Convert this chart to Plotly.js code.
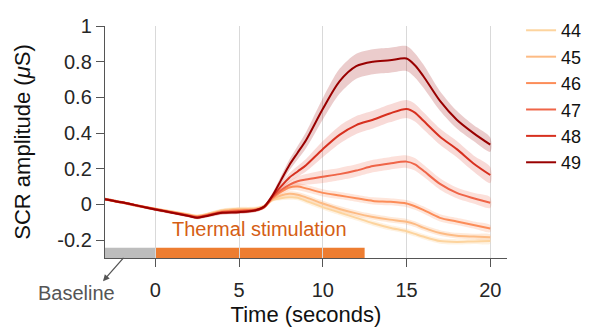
<!DOCTYPE html>
<html>
<head>
<meta charset="utf-8">
<script src="https://cdn.plot.ly/plotly-3.0.1.min.js"></script>
<style>html,body{margin:0;padding:0;background:#fff;}#chart{width:605px;height:328px;}</style>
</head>
<body>
<div id="chart"></div>
<script>
// time axis (seconds)
const timeSec = [-3,-2,-1,0,1,2,2.5,3,4,5,6,6.5,7,7.5,8,8.5,9,10,11,12,13,14,15,15.5,16,17,18,19,20];

// series labels (stimulus temperature) and colours
const seriesNames = ["44","45","46","47","48","49"];
const seriesColors = ["#fdd49e","#fdbb84","#fc8d59","#ef6548","#d7301f","#990000"];
const bandColors = ["rgba(253,212,158,0.30)","rgba(253,187,132,0.30)","rgba(252,141,89,0.22)","rgba(239,101,72,0.20)","rgba(215,48,31,0.18)","rgba(153,0,0,0.20)"];

// mean SCR amplitude (µS)
const scr44 = [0.03,0.012,-0.008,-0.025,-0.040,-0.056,-0.064,-0.056,-0.032,-0.024,-0.022,-0.010,0.025,0.035,0.040,0.038,0.020,-0.015,-0.045,-0.075,-0.105,-0.130,-0.150,-0.165,-0.180,-0.205,-0.210,-0.207,-0.205];
const scr45 = [0.03,0.012,-0.008,-0.026,-0.042,-0.058,-0.066,-0.058,-0.036,-0.028,-0.025,-0.012,0.030,0.050,0.060,0.055,0.040,0.005,-0.025,-0.050,-0.070,-0.085,-0.097,-0.110,-0.130,-0.160,-0.175,-0.180,-0.184];
const scr46 = [0.03,0.012,-0.008,-0.026,-0.043,-0.060,-0.068,-0.060,-0.040,-0.032,-0.028,-0.013,0.035,0.070,0.095,0.100,0.090,0.065,0.050,0.035,0.020,0.015,0.005,-0.010,-0.030,-0.075,-0.095,-0.115,-0.135];
const scr47 = [0.03,0.012,-0.008,-0.027,-0.044,-0.062,-0.070,-0.062,-0.042,-0.036,-0.030,-0.014,0.040,0.080,0.110,0.130,0.140,0.155,0.170,0.190,0.215,0.230,0.240,0.225,0.190,0.115,0.065,0.035,0.010];
const scr48 = [0.03,0.012,-0.008,-0.027,-0.045,-0.064,-0.073,-0.064,-0.045,-0.040,-0.032,-0.015,0.045,0.100,0.150,0.185,0.220,0.310,0.390,0.445,0.475,0.510,0.535,0.515,0.470,0.380,0.310,0.230,0.165];
const scr49 = [0.03,0.012,-0.008,-0.028,-0.046,-0.065,-0.075,-0.066,-0.047,-0.043,-0.032,-0.012,0.050,0.135,0.220,0.290,0.360,0.535,0.690,0.775,0.800,0.808,0.818,0.780,0.720,0.580,0.475,0.400,0.335];

// standard error of the mean (shaded bands)
const sem44 = [0.008,0.008,0.008,0.008,0.008,0.008,0.008,0.008,0.01,0.01,0.01,0.01,0.01,0.012,0.014,0.015,0.015,0.015,0.015,0.015,0.015,0.015,0.015,0.015,0.015,0.015,0.015,0.015,0.015];
const sem45 = [0.008,0.008,0.008,0.008,0.008,0.008,0.008,0.008,0.01,0.01,0.01,0.01,0.01,0.012,0.014,0.015,0.016,0.016,0.016,0.016,0.016,0.016,0.016,0.016,0.016,0.016,0.016,0.016,0.016];
const sem46 = [0.008,0.008,0.008,0.008,0.008,0.008,0.008,0.008,0.01,0.01,0.01,0.01,0.012,0.015,0.018,0.02,0.02,0.02,0.02,0.02,0.02,0.02,0.02,0.02,0.02,0.02,0.02,0.02,0.02];
const sem47 = [0.008,0.008,0.008,0.008,0.008,0.008,0.008,0.008,0.01,0.01,0.01,0.01,0.012,0.016,0.02,0.026,0.03,0.035,0.035,0.035,0.035,0.035,0.035,0.035,0.034,0.032,0.03,0.03,0.03];
const sem48 = [0.008,0.008,0.008,0.008,0.008,0.008,0.008,0.008,0.01,0.01,0.01,0.01,0.014,0.02,0.025,0.03,0.035,0.045,0.05,0.05,0.05,0.05,0.05,0.05,0.048,0.045,0.045,0.045,0.045];
const sem49 = [0.008,0.008,0.008,0.008,0.008,0.008,0.008,0.008,0.01,0.01,0.01,0.01,0.015,0.022,0.03,0.038,0.045,0.06,0.07,0.07,0.07,0.07,0.07,0.068,0.065,0.055,0.05,0.045,0.04];

// stimulus timing windows (seconds) and band vertical extent (µS)
const baselineWindow = [-3, 0];
const stimWindow = [0, 12.5];
const eventBarY = [-0.3, -0.243];

const xTicks = [0,5,10,15,20];
const yTicks = [-0.2,0,0.2,0.4,0.6,0.8,1];
const yTickText = ["-0.2","0","0.2","0.4","0.6","0.8","1"];

const means = [scr44,scr45,scr46,scr47,scr48,scr49];
const sems = [sem44,sem45,sem46,sem47,sem48,sem49];

const traces = [];
// bands first
means.forEach((m,i)=>{
  const up = m.map((v,k)=>v+sems[i][k]);
  const lo = m.map((v,k)=>v-sems[i][k]);
  traces.push({
    x: timeSec.concat(timeSec.slice().reverse()),
    y: up.concat(lo.slice().reverse()),
    type:'scatter', mode:'lines', fill:'toself', fillcolor: bandColors[i],
    line:{width:0, shape:'spline', smoothing:0.8}, hoverinfo:'skip', showlegend:false
  });
});
means.forEach((m,i)=>{
  traces.push({
    x: timeSec, y: m, type:'scatter', mode:'lines', name: seriesNames[i],
    legendgroup: 'g'+i,
    line:{color: seriesColors[i], width:2, shape:'spline', smoothing:0.8}
  });
});

const font = "Liberation Sans, Arial, Helvetica, sans-serif";
const layout = {
  width:605, height:328,
  margin:{l:105, r:98, t:18, b:70},
  paper_bgcolor:'#fff', plot_bgcolor:'#fff',
  font:{family:font, color:'#262626', size:20},
  showlegend:true,
  legend:{x:1.035, xanchor:'left', y:1.06, yanchor:'top', font:{size:18, color:'#111'},
          tracegroupgap:4, bgcolor:'rgba(0,0,0,0)', traceorder:'normal'},
  xaxis:{range:[-3,21], tickvals:xTicks, showgrid:true, gridcolor:'#d9d9d9', gridwidth:1,
         zeroline:false, showline:true, linecolor:'#555', linewidth:1.2,
         ticks:'outside', ticklen:8, tickcolor:'#555', tickfont:{size:20, color:'#262626'},
         ticklabelstandoff:6,
         title:{text:'Time (seconds)', font:{size:22, color:'#111'}, standoff:6}},
  yaxis:{range:[-0.3,1], tickvals:yTicks, ticktext:yTickText, showgrid:false, zeroline:false,
         showline:true, linecolor:'#555', linewidth:1.2, ticks:'outside', ticklen:8, tickcolor:'#555',
         tickfont:{size:20, color:'#262626'},
         title:{text:'SCR amplitude (<i>μ</i>S)', font:{size:22, color:'#111'}, standoff:20}},
  shapes:[
    {type:'rect', xref:'x', yref:'y', x0:baselineWindow[0], x1:baselineWindow[1], y0:eventBarY[0], y1:eventBarY[1],
     fillcolor:'#bdbdbd', line:{width:0}, layer:'below'},
    {type:'rect', xref:'x', yref:'y', x0:stimWindow[0], x1:stimWindow[1], y0:eventBarY[0], y1:eventBarY[1],
     fillcolor:'#ed7d31', line:{width:0}, layer:'below'}
  ],
  annotations:[
    {xref:'x', yref:'y', x:(stimWindow[0]+stimWindow[1])/2, y:-0.14, text:'Thermal stimulation', showarrow:false,
     font:{size:20, color:'#d55e14'}},
    {xref:'paper', yref:'paper', x:-0.072, y:-0.15, xanchor:'center', yanchor:'middle',
     text:'Baseline', showarrow:false, font:{size:20, color:'#555'}},
    {xref:'paper', yref:'paper', x:-0.005, y:-0.1, ax:22, ay:-25, axref:'pixel', ayref:'pixel',
     text:' ', font:{size:1}, showarrow:true, standoff:0, startstandoff:0,
     arrowhead:2, arrowsize:1, arrowwidth:1.3, arrowcolor:'#555'}
  ]
};
Plotly.newPlot('chart', traces, layout, {staticPlot:true, displayModeBar:false});
</script>
</body>
</html>
